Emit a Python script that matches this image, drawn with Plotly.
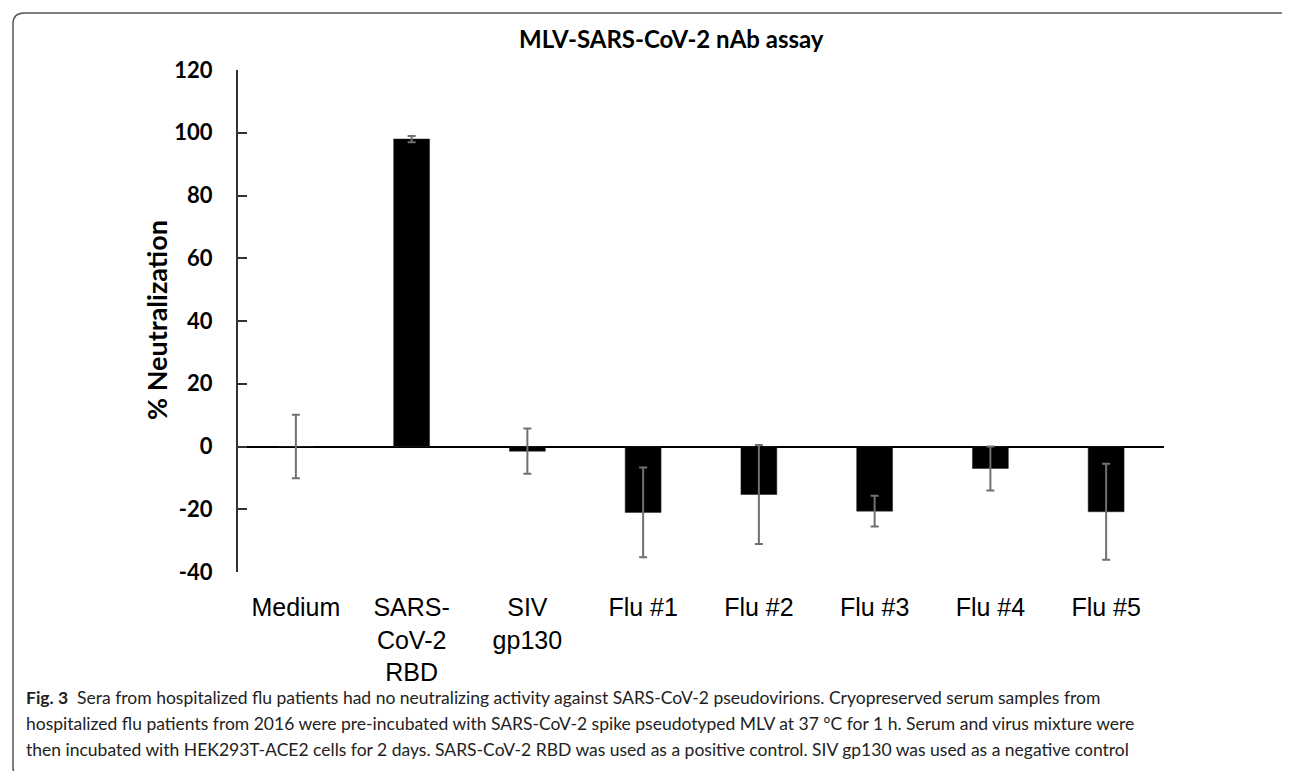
import plotly.graph_objects as go

# ---------------- data ----------------
categories = ["Medium", "SARS-<br>CoV-2<br>RBD", "SIV<br>gp130", "Flu #1", "Flu #2", "Flu #3", "Flu #4", "Flu #5"]
neutralization = [0.0, 98.0, -1.5, -21.0, -15.3, -20.6, -7.0, -20.8]
error_sd = [10.1, 1.0, 7.2, 14.3, 15.8, 4.9, 7.0, 15.3]
y_tick_values = [-40, -20, 0, 20, 40, 60, 80, 100, 120]
y_tick_labels = ["-40", "-20", "0", "20", "40", "60", "80", "100", "120"]
chart_title = "MLV-SARS-CoV-2 nAb assay"
y_title = "% Neutralization"
caption_lines = [
    "<b>Fig. 3</b>\u00a0\u00a0Sera from hospitalized flu patients had no neutralizing activity against SARS-CoV-2 pseudovirions. Cryopreserved serum samples from",
    "hospitalized flu patients from 2016 were pre-incubated with SARS-CoV-2 spike pseudotyped MLV at 37 \u00b0C for 1 h. Serum and virus mixture were",
    "then incubated with HEK293T-ACE2 cells for 2 days. SARS-CoV-2 RBD was used as a positive control. SIV gp130 was used as a negative control",
]

# ---------------- layout geometry (pixels) ----------------
W, H = 1290, 771
L, R, T, B = 230, 134, 62, 207
PW, PH = W - L - R, H - T - B


def px_x(x):
    return (x - L) / PW


def px_y(y):
    return (H - B - y) / PH


fig = go.Figure()
fig.add_trace(go.Bar(
    x=categories,
    y=neutralization,
    width=0.31,
    marker=dict(color="black", line=dict(color="#222222", width=0.5)),
    error_y=dict(type="data", array=error_sd, visible=True,
                 color="#707070", thickness=2, width=4),
    showlegend=False,
))

# rounded frame
x0, x1 = px_x(5), px_x(1288)
yt, yb = px_y(5), px_y(770)
rx, ry = 11 / PW, 11 / PH
frame_path = (
    f"M {x0+rx},{yt} L {x1-rx},{yt} Q {x1},{yt} {x1},{yt-ry} "
    f"L {x1},{yb+ry} Q {x1},{yb} {x1-rx},{yb} "
    f"L {x0+rx},{yb} Q {x0},{yb} {x0},{yb+ry} "
    f"L {x0},{yt-ry} Q {x0},{yt} {x0+rx},{yt} Z"
)
shapes = [dict(type="path", xref="paper", yref="paper", path=frame_path,
               line=dict(color="#555555", width=1.5), layer="below")]

annotations = [
    dict(text=f"<b>{chart_title}</b>", xref="paper", yref="paper",
         x=px_x(663), y=px_y(30), xanchor="center", yanchor="middle",
         showarrow=False, font=dict(family="Lato", size=24, color="black")),
    dict(text=f"<b>{y_title}</b>", xref="paper", yref="paper",
         x=px_x(148), y=px_y(312), xanchor="center", yanchor="middle",
         textangle=-90, showarrow=False,
         font=dict(family="Lato", size=27, color="black")),
]
cap_y = [689, 715, 741]
for line, cy in zip(caption_lines, cap_y):
    annotations.append(dict(
        text=line, xref="paper", yref="paper", x=px_x(16), y=px_y(cy),
        xanchor="left", yanchor="middle", align="left", showarrow=False,
        font=dict(family="Lato", size=17.5, color="#222222"),
    ))

fig.update_layout(
    width=W, height=H,
    margin=dict(l=L, r=R, t=T, b=B, autoexpand=False),
    paper_bgcolor="white", plot_bgcolor="white",
    bargap=0.69,
    shapes=shapes,
    annotations=annotations,
    xaxis=dict(
        type="category", range=[-0.5, len(categories) - 0.5],
        showline=False, showgrid=False, zeroline=False, ticks="",
        tickfont=dict(family="Liberation Sans", size=25, color="black"),
        ticklabelstandoff=18,
    ),
    yaxis=dict(
        range=[-40, 120], tickvals=y_tick_values, ticktext=y_tick_labels,
        showgrid=False, showline=True, linecolor="#333333", linewidth=2,
        ticks="inside", ticklen=9, tickwidth=2, tickcolor="#333333",
        zeroline=True, zerolinecolor="black", zerolinewidth=1.5,
        tickfont=dict(family="Lato", size=22, color="black", weight="bold"),
        ticklabelstandoff=19,
    ),
)

fig.write_html("out.html")
